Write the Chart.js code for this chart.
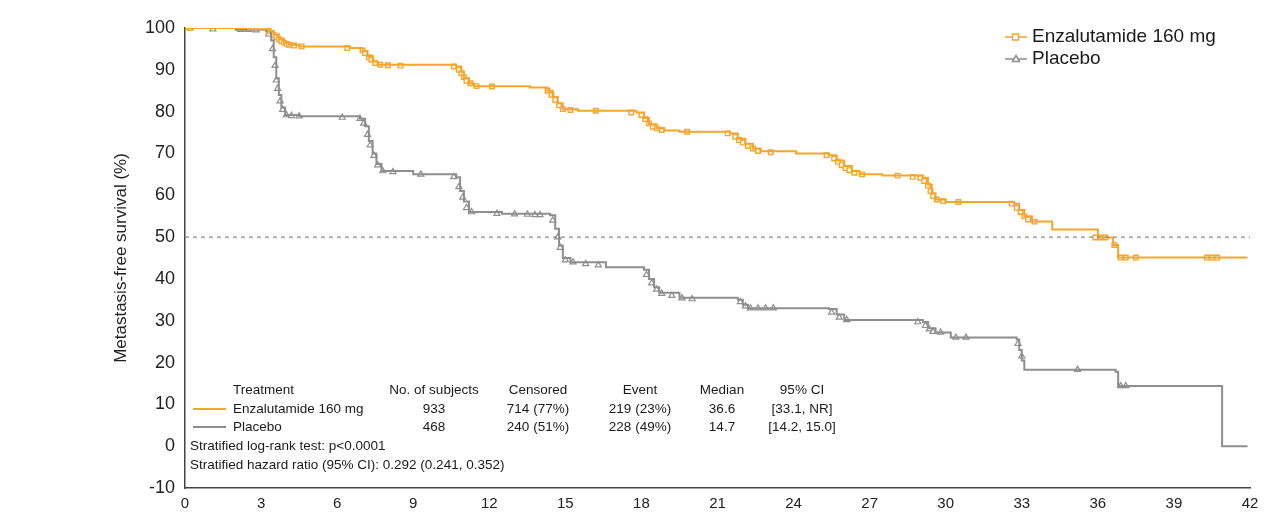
<!DOCTYPE html>
<html><head><meta charset="utf-8">
<script src="https://cdn.jsdelivr.net/npm/chart.js@4.4.0/dist/chart.umd.min.js"></script>
<style>html,body{margin:0;padding:0;background:#fff}#wrap{width:1272px;height:514px}</style>
</head><body><div id="wrap"><canvas id="c" width="1272" height="514"></canvas></div>
<script>
// ---- data (months, % metastasis-free) ----
const seriesNames = ["Enzalutamide 160 mg", "Placebo"];
const enzaKM = [[0,100],[2.5,99.7],[3.3,99.3],[3.5,98.5],[3.7,97.5],[3.9,96.5],[4.1,96],[4.5,95.6],[6.5,95.2],[7.0,94.5],[7.2,93.3],[7.4,92],[7.6,91.2],[10.7,90.8],[10.9,89.5],[11.0,88],[11.2,86.8],[11.4,86.1],[13.6,85.8],[14.3,85],[14.5,83.5],[14.7,82],[14.9,80.6],[15.5,80.2],[17.8,79.8],[18.1,78.5],[18.3,77],[18.6,76],[18.9,75.5],[19.5,75.2],[21.5,74.8],[21.8,73.5],[22.1,72.3],[22.4,71.2],[22.7,70.5],[24.1,70.0],[25.4,69.6],[25.7,68.3],[26.0,67],[26.3,65.8],[26.6,65],[27.5,64.7],[29.1,64.2],[29.3,62.5],[29.45,60.5],[29.6,59],[30.0,58.4],[32.7,58.0],[32.9,56.5],[33.1,55],[33.4,53.7],[34.2,51.8],[36.0,49.9],[36.6,48.1],[36.8,45.1],[41.9,45.1]];
const placeboKM = [[0,100],[2.0,99.6],[3.2,99.2],[3.4,97],[3.5,93],[3.6,88],[3.7,84],[3.8,81],[3.95,79.2],[4.5,78.9],[6.9,78.3],[7.1,76.5],[7.25,73],[7.4,70],[7.55,67.5],[7.75,65.8],[9.0,65.0],[10.7,64.3],[10.85,61],[11.0,58.5],[11.2,56],[12.5,55.6],[14.4,55.2],[14.6,52],[14.75,48],[14.9,45],[15.2,44],[16.6,42.8],[18.1,42.2],[18.3,40],[18.5,38],[18.7,36.7],[19.5,35.5],[21.8,35],[22.0,33.8],[22.2,33],[25.4,32.8],[25.7,31.5],[26.0,30.2],[29.1,29.7],[29.3,28.2],[29.6,27.2],[30.2,26],[32.8,25.5],[32.9,23],[33.0,20.5],[33.1,18.3],[36.7,17.8],[36.8,14.4],[40.9,0],[41.9,0]];
const enzaCensored = [[0.2,100],[3.3,99.3],[3.5,98.3],[3.6,97.8],[3.7,97.3],[3.8,96.8],[3.9,96.5],[4.0,96.2],[4.1,96],[4.3,95.8],[4.6,95.6],[6.4,95.2],[7.0,94.6],[7.1,94],[7.25,93],[7.35,92.4],[7.5,91.6],[7.7,91.2],[8.0,91.1],[8.5,91],[10.6,90.8],[10.8,90],[10.9,89.2],[11.0,88.3],[11.1,87.4],[11.25,86.8],[11.5,86.1],[12.1,86],[14.3,85],[14.45,84],[14.6,82.8],[14.75,81.5],[14.9,80.6],[15.2,80.4],[16.2,80.2],[17.6,79.8],[18.0,79.2],[18.15,78.2],[18.3,77.2],[18.45,76.4],[18.6,76],[18.8,75.6],[19.8,75.2],[21.4,74.8],[21.7,74],[21.85,73.2],[22.0,72.6],[22.2,71.8],[22.4,71.2],[22.6,70.6],[23.1,70.3],[25.3,69.6],[25.6,68.8],[25.75,68],[25.9,67.2],[26.05,66.5],[26.2,66],[26.4,65.4],[26.7,65],[28.1,64.7],[28.7,64.4],[29.0,64.2],[29.15,63.4],[29.3,62.3],[29.4,61],[29.5,59.8],[29.65,59],[29.9,58.6],[30.5,58.4],[32.6,58],[32.8,57],[32.95,56],[33.1,55],[33.25,54.2],[33.5,53.7],[35.9,49.9],[36.1,49.9],[36.3,49.9],[36.65,48.1],[36.9,45.1],[37.1,45.1],[37.5,45.1],[40.3,45.1],[40.5,45.1],[40.7,45.1]];
const placeboCensored = [[0.2,100],[1.1,99.7],[2.2,99.6],[2.5,99.6],[2.8,99.5],[3.3,98.5],[3.45,95],[3.55,91],[3.6,87.5],[3.65,85.5],[3.75,82.5],[3.85,80.5],[4.0,79.2],[4.2,79],[4.5,78.9],[6.2,78.6],[6.9,78.3],[7.05,77.2],[7.2,74.5],[7.3,72],[7.45,69.5],[7.6,67.2],[7.8,65.8],[8.2,65.6],[9.3,65],[10.6,64.4],[10.8,62],[10.95,59.5],[11.1,57],[11.3,56],[12.3,55.6],[13.0,55.5],[13.5,55.4],[13.8,55.3],[14.0,55.3],[14.5,54],[14.7,50],[14.8,47.5],[15.0,44.5],[15.3,44],[15.8,43.6],[16.3,43.3],[18.2,41],[18.4,39],[18.6,37.5],[18.8,36.5],[19.2,36],[19.6,35.4],[20.0,35.2],[21.9,34.5],[22.1,33.5],[22.3,33],[22.6,33],[22.9,33],[23.2,33],[25.5,32],[25.8,30.8],[26.1,30.2],[28.9,29.7],[29.2,28.8],[29.35,28],[29.5,27.4],[29.8,27.2],[30.4,26],[30.8,26],[32.85,24.5],[33.0,21.5],[35.2,18.3],[36.9,14.4],[37.1,14.4]];
const medianLine = [[0,50],[42,50]];
const xTicks = [0,3,6,9,12,15,18,21,24,27,30,33,36,39,42];
const yTicks = [-10,0,10,20,30,40,50,60,70,80,90,100];
const tableHeader = ["Treatment","No. of subjects","Censored","Event","Median","95% CI"];
const tableRows = [
  ["Enzalutamide 160 mg","933","714 (77%)","219 (23%)","36.6","[33.1, NR]"],
  ["Placebo","468","240 (51%)","228 (49%)","14.7","[14.2, 15.0]"]
];
const footNotes = ["Stratified log-rank test: p<0.0001","Stratified hazard ratio (95% CI): 0.292 (0.241, 0.352)"];

const ORANGE = '#F6A52C', GRAY = '#8E8E8E';
const pts = a => a.map(([x,y]) => ({x, y}));

const overlay = {
  id: 'overlay',
  afterDraw(chart) {
    const ctx = chart.ctx;
    const colors = [ORANGE, GRAY];
    ctx.save();
    // legend
    ctx.font = '19px "Liberation Sans", Arial, sans-serif';
    ctx.textBaseline = 'middle';
    const ly = [37, 59];
    seriesNames.forEach((n, i) => {
      ctx.strokeStyle = colors[i]; ctx.lineWidth = 1.5;
      ctx.beginPath(); ctx.moveTo(1005, ly[i]); ctx.lineTo(1027, ly[i]); ctx.stroke();
      ctx.fillStyle = '#fff';
      if (i === 0) { ctx.fillRect(1012.5, ly[i]-3, 6, 6); ctx.strokeRect(1012.5, ly[i]-3, 6, 6); }
      else { ctx.beginPath(); ctx.moveTo(1016, ly[i]-3.5); ctx.lineTo(1019.5, ly[i]+2.5); ctx.lineTo(1012.5, ly[i]+2.5); ctx.closePath(); ctx.fill(); ctx.stroke(); }
      ctx.fillStyle = '#1a1a1a'; ctx.textAlign = 'left';
      ctx.fillText(n, 1032, ly[i]);
    });
    // table
    ctx.font = '13.5px "Liberation Sans", Arial, sans-serif';
    ctx.fillStyle = '#1a1a1a';
    const colX = [233, 434, 538, 640, 722, 802];
    ctx.textAlign = 'left'; ctx.fillText(tableHeader[0], colX[0], 390);
    ctx.textAlign = 'center';
    for (let c = 1; c < 6; c++) ctx.fillText(tableHeader[c], colX[c], 390);
    const ry = [409, 427];
    tableRows.forEach((r, i) => {
      ctx.strokeStyle = colors[i]; ctx.lineWidth = 2;
      ctx.beginPath(); ctx.moveTo(193, ry[i]); ctx.lineTo(226, ry[i]); ctx.stroke();
      ctx.textAlign = 'left'; ctx.fillText(r[0], colX[0], ry[i]);
      ctx.textAlign = 'center';
      for (let c = 1; c < 6; c++) ctx.fillText(r[c], colX[c], ry[i]);
    });
    ctx.textAlign = 'left';
    ctx.fillText(footNotes[0], 190, 446);
    ctx.fillText(footNotes[1], 190, 465);
    ctx.restore();
  }
};

new Chart(document.getElementById('c'), {
  type: 'line',
  data: {
    datasets: [
      { label: 'median', data: pts(medianLine), borderColor: '#8a8a8a', borderWidth: 1.3, borderDash: [4,4], pointRadius: 0, fill: false },
      { label: seriesNames[0], data: pts(enzaKM), borderColor: ORANGE, borderWidth: 2, stepped: 'before', pointRadius: 0, fill: false },
      { label: seriesNames[1], data: pts(placeboKM), borderColor: GRAY, borderWidth: 2, stepped: 'before', pointRadius: 0, fill: false },
      { label: 'enzaC', data: pts(enzaCensored), showLine: false, pointStyle: 'rect', pointRadius: 3.2, borderColor: ORANGE, backgroundColor: '#fff', pointBorderWidth: 1.4 },
      { label: 'plaC', data: pts(placeboCensored), showLine: false, pointStyle: 'triangle', pointRadius: 3.5, borderColor: GRAY, backgroundColor: '#fff', pointBorderWidth: 1.2 }
    ]
  },
  options: {
    responsive: false, animation: false,
    layout: { padding: { left: 111, right: 22, top: 28, bottom: 0 } },
    plugins: { legend: { display: false }, tooltip: { enabled: false } },
    scales: {
      x: {
        type: 'linear', min: 0, max: 42,
        afterBuildTicks: s => { s.ticks = xTicks.map(v => ({ value: v })); },
        afterFit: s => { s.height = 26; },
        grid: { display: false, drawTicks: true, tickLength: 6, tickColor: '#444' },
        border: { color: '#444', width: 1.5 },
        ticks: { color: '#222', font: { size: 15, family: '"Liberation Sans", Arial, sans-serif' }, padding: 1, maxRotation: 0 }
      },
      y: {
        min: -10, max: 100,
        afterBuildTicks: s => { s.ticks = yTicks.map(v => ({ value: v })); },
        afterFit: s => { s.width = 74; },
        grid: { display: false, drawTicks: true, tickLength: 6, tickColor: '#444' },
        border: { color: '#444', width: 1.5 },
        ticks: { color: '#222', font: { size: 18, family: '"Liberation Sans", Arial, sans-serif' }, padding: 4 },
        title: { display: true, text: 'Metastasis-free survival (%)', color: '#222', font: { size: 17, family: '"Liberation Sans", Arial, sans-serif' }, padding: 0 }
      }
    }
  },
  plugins: [overlay]
});
</script></body></html>
